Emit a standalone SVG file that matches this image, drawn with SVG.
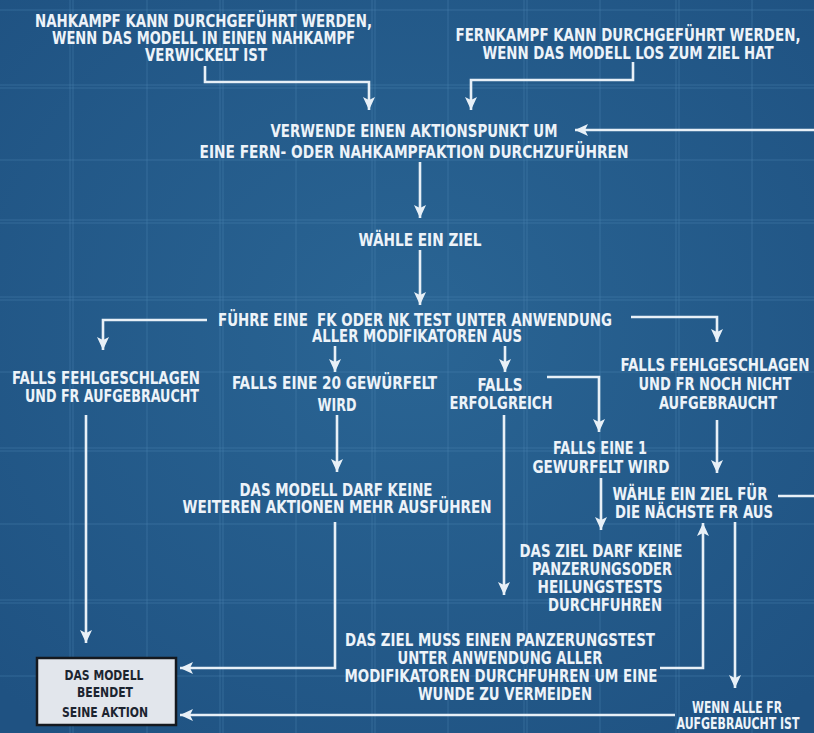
<svg xmlns="http://www.w3.org/2000/svg" width="814" height="733" viewBox="0 0 814 733">
<defs>
<radialGradient id="bg" cx="50%" cy="45%" r="70%">
<stop offset="0" stop-color="#2a6594"/>
<stop offset="1" stop-color="#1f5282"/>
</radialGradient>
<marker id="ah" markerUnits="userSpaceOnUse" markerWidth="14" markerHeight="14" viewBox="0 0 14 14" refX="13" refY="7" orient="auto">
<path d="M0,1 L13,7 L0,13 L3,7 z" fill="#e8f0f7"/>
</marker>
<style>
.t{font-family:"Liberation Sans Narrow","DejaVu Sans Condensed","Liberation Sans",sans-serif;font-weight:bold;font-size:17.5px;fill:#edf3f9;text-anchor:middle}
.s{font-size:15px}
.b{font-family:"Liberation Sans Narrow","DejaVu Sans Condensed","Liberation Sans",sans-serif;font-weight:bold;font-size:14px;fill:#1c2430;text-anchor:middle}
.c{fill:none;stroke:#e8f0f7;stroke-width:2.6;marker-end:url(#ah)}
.n{fill:none;stroke:#e8f0f7;stroke-width:2.6}
.g{stroke:#4d85b2;stroke-width:1;opacity:0.45}
</style>
</defs>
<rect width="814" height="733" fill="url(#bg)"/>
<g id="grid">
<path class="g" d="M70,0V733M73,0V733M147,0V733M220,0V733M223,0V733M296,0V733M372,0V733M375,0V733M448,0V733M524,0V733M527,0V733M600,0V733M676,0V733M679,0V733M752,0V733"/>
<path class="g" d="M0,10H814M0,85H814M0,88H814M0,160H814M0,220H814M0,223H814M0,297H814M0,300H814M0,372H814M0,448H814M0,451H814M0,524H814M0,600H814M0,603H814M0,676H814"/>
</g>
<g id="connectors">
<path class="c" d="M205,66V82H369V110"/>
<path class="c" d="M633,62V80H471V110"/>
<path class="c" d="M814,130H575"/>
<path class="c" d="M420,162V218"/>
<path class="c" d="M420,250V305"/>
<path class="c" d="M207,320H103V350"/>
<path class="c" d="M335,346V372"/>
<path class="c" d="M505,346V372"/>
<path class="c" d="M631,317H717V342"/>
<path class="c" d="M547,377H599V432"/>
<path class="c" d="M504,415V595"/>
<path class="c" d="M337,415V472"/>
<path class="c" d="M86,415V643"/>
<path class="c" d="M717,420V473"/>
<path class="c" d="M601,478V530"/>
<path class="c" d="M335,522V668H180"/>
<path class="c" d="M660,668H703V523"/>
<path class="c" d="M735,522V688"/>
<path class="n" d="M778,496H814"/>
<path class="c" d="M675,715H180"/>
</g>
<g id="n-nahkampf">
<text class="t" x="203.5" y="27" textLength="337" lengthAdjust="spacingAndGlyphs">NAHKAMPF KANN DURCHGEFÜHRT WERDEN,</text>
<text class="t" x="203.5" y="44" textLength="303" lengthAdjust="spacingAndGlyphs">WENN DAS MODELL IN EINEN NAHKAMPF</text>
<text class="t" x="206" y="61" textLength="122" lengthAdjust="spacingAndGlyphs">VERWICKELT IST</text>
</g>
<g id="n-fernkampf">
<text class="t" x="628" y="41" textLength="345" lengthAdjust="spacingAndGlyphs">FERNKAMPF KANN DURCHGEFÜHRT WERDEN,</text>
<text class="t" x="628" y="59" textLength="291" lengthAdjust="spacingAndGlyphs">WENN DAS MODELL LOS ZUM ZIEL HAT</text>
</g>
<g id="n-aktionspunkt">
<text class="t" x="414" y="137" textLength="287" lengthAdjust="spacingAndGlyphs">VERWENDE EINEN AKTIONSPUNKT UM</text>
<text class="t" x="414" y="158" textLength="429" lengthAdjust="spacingAndGlyphs">EINE FERN- ODER NAHKAMPFAKTION DURCHZUFÜHREN</text>
</g>
<g id="n-ziel">
<text class="t" x="420" y="246" textLength="123" lengthAdjust="spacingAndGlyphs">WÄHLE EIN ZIEL</text>
</g>
<g id="n-test">
<text class="t" x="415" y="326" textLength="394" lengthAdjust="spacingAndGlyphs">FÜHRE EINE&#160; FK ODER NK TEST UNTER ANWENDUNG</text>
<text class="t" x="417" y="342" textLength="210" lengthAdjust="spacingAndGlyphs">ALLER MODIFIKATOREN AUS</text>
</g>
<g id="n-fehl-aufgebraucht">
<text class="t" x="106" y="384" textLength="188" lengthAdjust="spacingAndGlyphs">FALLS FEHLGESCHLAGEN</text>
<text class="t" x="112" y="402" textLength="174" lengthAdjust="spacingAndGlyphs">UND FR AUFGEBRAUCHT</text>
</g>
<g id="n-zwanzig">
<text class="t" x="334.5" y="389" textLength="205" lengthAdjust="spacingAndGlyphs">FALLS EINE 20 GEWÜRFELT</text>
<text class="t" x="337" y="411" textLength="39" lengthAdjust="spacingAndGlyphs">WIRD</text>
</g>
<g id="n-erfolgreich">
<text class="t" x="500" y="391" textLength="45" lengthAdjust="spacingAndGlyphs">FALLS</text>
<text class="t" x="501" y="409" textLength="103" lengthAdjust="spacingAndGlyphs">ERFOLGREICH</text>
</g>
<g id="n-fehl-nicht">
<text class="t" x="715" y="371" textLength="189" lengthAdjust="spacingAndGlyphs">FALLS FEHLGESCHLAGEN</text>
<text class="t" x="715" y="390" textLength="153" lengthAdjust="spacingAndGlyphs">UND FR NOCH NICHT</text>
<text class="t" x="718" y="409" textLength="118" lengthAdjust="spacingAndGlyphs">AUFGEBRAUCHT</text>
</g>
<g id="n-eins">
<text class="t" x="600" y="454" textLength="94" lengthAdjust="spacingAndGlyphs">FALLS EINE 1</text>
<text class="t" x="601" y="473" textLength="137" lengthAdjust="spacingAndGlyphs">GEWURFELT WIRD</text>
</g>
<g id="n-keine-aktionen">
<text class="t" x="336" y="496" textLength="193" lengthAdjust="spacingAndGlyphs">DAS MODELL DARF KEINE</text>
<text class="t" x="337" y="513" textLength="309" lengthAdjust="spacingAndGlyphs">WEITEREN AKTIONEN MEHR AUSFÜHREN</text>
</g>
<g id="n-naechste">
<text class="t" x="690" y="500" textLength="155" lengthAdjust="spacingAndGlyphs">WÄHLE EIN ZIEL FÜR</text>
<text class="t" x="694" y="518" textLength="158" lengthAdjust="spacingAndGlyphs">DIE NÄCHSTE FR AUS</text>
</g>
<g id="n-keine-tests">
<text class="t" x="601" y="557" textLength="163" lengthAdjust="spacingAndGlyphs">DAS ZIEL DARF KEINE</text>
<text class="t" x="602" y="575" textLength="140" lengthAdjust="spacingAndGlyphs">PANZERUNGSODER</text>
<text class="t" x="600" y="593" textLength="125" lengthAdjust="spacingAndGlyphs">HEILUNGSTESTS</text>
<text class="t" x="605" y="611" textLength="114" lengthAdjust="spacingAndGlyphs">DURCHFUHREN</text>
</g>
<g id="n-panzerungstest">
<text class="t" x="500" y="646" textLength="310" lengthAdjust="spacingAndGlyphs">DAS ZIEL MUSS EINEN PANZERUNGSTEST</text>
<text class="t" x="500" y="664" textLength="205" lengthAdjust="spacingAndGlyphs">UNTER ANWENDUNG ALLER</text>
<text class="t" x="501" y="682" textLength="313" lengthAdjust="spacingAndGlyphs">MODIFIKATOREN DURCHFUHREN UM EINE</text>
<text class="t" x="505" y="700" textLength="174" lengthAdjust="spacingAndGlyphs">WUNDE ZU VERMEIDEN</text>
</g>
<g id="n-alle-fr">
<text class="t s" x="737" y="712.5" textLength="90" lengthAdjust="spacingAndGlyphs">WENN ALLE FR</text>
<text class="t s" x="738" y="729" textLength="123" lengthAdjust="spacingAndGlyphs">AUFGEBRAUCHT IST</text>
</g>
<g id="n-ende">
<rect x="37" y="658" width="139" height="67" fill="#e2e6ec" stroke="#15191f" stroke-width="2.5"/>
<text class="b" x="104" y="680" textLength="79" lengthAdjust="spacingAndGlyphs">DAS MODELL</text>
<text class="b" x="105" y="697" textLength="56" lengthAdjust="spacingAndGlyphs">BEENDET</text>
<text class="b" x="105" y="717" textLength="86" lengthAdjust="spacingAndGlyphs">SEINE AKTION</text>
</g>
</svg>
